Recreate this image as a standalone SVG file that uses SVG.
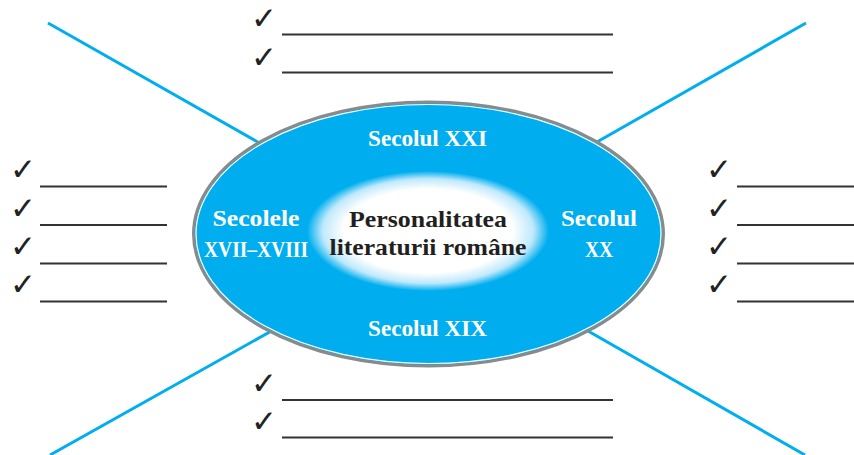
<svg xmlns="http://www.w3.org/2000/svg" width="854" height="455" viewBox="0 0 854 455">
<defs>
<radialGradient id="glow" cx="0.5" cy="0.5" r="0.5">
<stop offset="0" stop-color="#ffffff"/>
<stop offset="0.7" stop-color="#ffffff"/>
<stop offset="0.87" stop-color="#bfe9fb"/>
<stop offset="1" stop-color="#00aeef"/>
</radialGradient>
<style>
.ray{stroke:#00aeef;stroke-width:3;fill:none;stroke-linecap:butt}
.blank{stroke:#333333;stroke-width:2}
.chk{font-family:"DejaVu Sans",sans-serif;font-size:31px;fill:#222222}
.wt{font-family:"Liberation Serif",serif;font-weight:bold;font-size:23px;fill:#ffffff;text-anchor:middle}
.bt{font-family:"Liberation Serif",serif;font-weight:bold;font-size:24px;fill:#231f20;text-anchor:middle}
</style>
</defs>
<rect width="854" height="455" fill="#ffffff"/>
<g id="connectors">
<line class="ray" x1="48" y1="23" x2="300" y2="166"/>
<line class="ray" x1="806" y1="23" x2="560" y2="163"/>
<line class="ray" x1="50" y1="455" x2="300" y2="315"/>
<line class="ray" x1="805" y1="455" x2="560" y2="315"/>
</g>
<g id="center">
<ellipse cx="428.5" cy="234" rx="235" ry="132" fill="#00aeef" stroke="#8a8a8a" stroke-width="3"/>
<ellipse cx="428.5" cy="234" rx="232.5" ry="129.5" fill="none" stroke="#ffffff" stroke-width="1.2"/>
<ellipse cx="428" cy="231" rx="121" ry="60" fill="url(#glow)"/>
<text class="bt" x="428" y="227" textLength="158" lengthAdjust="spacingAndGlyphs">Personalitatea</text>
<text class="bt" x="428" y="255" textLength="197" lengthAdjust="spacingAndGlyphs">literaturii române</text>
</g>
<g id="sec21">
<text class="wt" x="427.5" y="146" textLength="119" lengthAdjust="spacingAndGlyphs">Secolul XXI</text>
</g>
<g id="sec19">
<text class="wt" x="427.5" y="336" textLength="119" lengthAdjust="spacingAndGlyphs">Secolul XIX</text>
</g>
<g id="sec17-18">
<text class="wt" x="256" y="226" textLength="87" lengthAdjust="spacingAndGlyphs">Secolele</text>
<text class="wt" x="256" y="257" textLength="104" lengthAdjust="spacingAndGlyphs">XVII–XVIII</text>
</g>
<g id="sec20">
<text class="wt" x="599" y="226" textLength="76" lengthAdjust="spacingAndGlyphs">Secolul</text>
<text class="wt" x="599" y="257" textLength="28" lengthAdjust="spacingAndGlyphs">XX</text>
</g>
<g id="list-top">
<text class="chk" x="251" y="29">✓</text>
<line class="blank" x1="282" y1="34.5" x2="613" y2="34.5"/>
<text class="chk" x="251" y="68">✓</text>
<line class="blank" x1="282" y1="72.5" x2="613" y2="72.5"/>
</g>
<g id="list-bottom">
<text class="chk" x="251" y="394">✓</text>
<line class="blank" x1="282" y1="400" x2="613" y2="400"/>
<text class="chk" x="251" y="432">✓</text>
<line class="blank" x1="282" y1="437.5" x2="613" y2="437.5"/>
</g>
<g id="list-left">
<text class="chk" x="10" y="180">✓</text>
<line class="blank" x1="40" y1="186.5" x2="167" y2="186.5"/>
<text class="chk" x="10" y="219">✓</text>
<line class="blank" x1="40" y1="225" x2="167" y2="225"/>
<text class="chk" x="10" y="257">✓</text>
<line class="blank" x1="40" y1="263.5" x2="167" y2="263.5"/>
<text class="chk" x="10" y="295">✓</text>
<line class="blank" x1="40" y1="301.5" x2="167" y2="301.5"/>
</g>
<g id="list-right">
<text class="chk" x="706" y="180">✓</text>
<line class="blank" x1="737" y1="186.5" x2="854" y2="186.5"/>
<text class="chk" x="706" y="219">✓</text>
<line class="blank" x1="737" y1="225" x2="854" y2="225"/>
<text class="chk" x="706" y="257">✓</text>
<line class="blank" x1="737" y1="263.5" x2="854" y2="263.5"/>
<text class="chk" x="706" y="295">✓</text>
<line class="blank" x1="737" y1="301.5" x2="854" y2="301.5"/>
</g>
</svg>
